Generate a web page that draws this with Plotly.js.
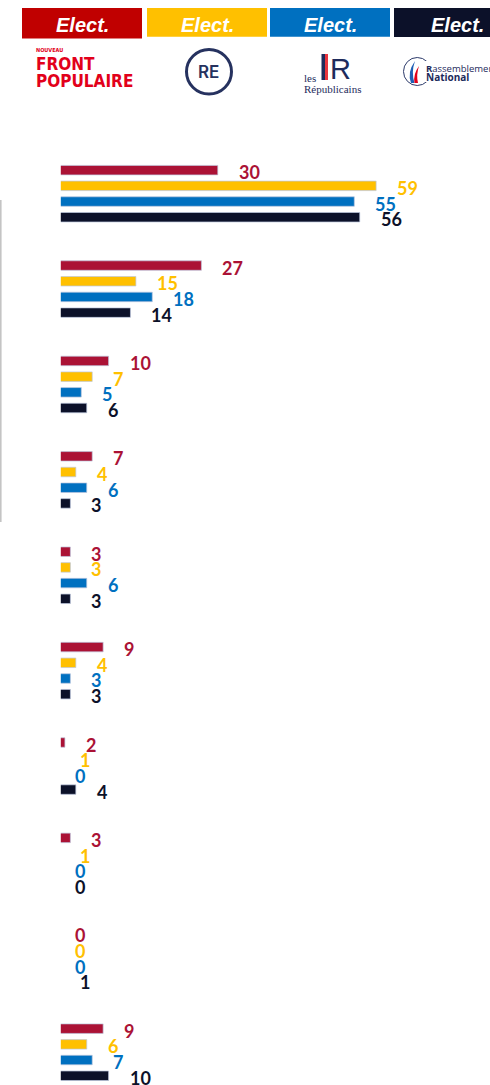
<!DOCTYPE html>
<html>
<head>
<meta charset="utf-8">
<script src="https://cdn.plot.ly/plotly-3.0.1.min.js"></script>
<style>
  html, body { margin: 0; padding: 0; background: #fff; }
  #chart { width: 490px; height: 1085px; }
</style>
</head>
<body>
<div id="chart"></div>
<script>
// ---------- data ----------
const categories = ['Item 1', 'Item 2', 'Item 3', 'Item 4', 'Item 5', 'Item 6', 'Item 7', 'Item 8', 'Item 9', 'Item 10'];
const parties = ['Nouveau Front Populaire', 'Renaissance', 'Les Républicains', 'Rassemblement National'];
const headerLabels = ['Elect.', 'Elect.', 'Elect.', 'Elect.'];
const nfpValues = [30, 27, 10, 7, 3, 9, 2, 3, 0, 9];
const reValues  = [59, 15, 7, 4, 3, 4, 1, 1, 0, 6];
const lrValues  = [55, 18, 5, 6, 6, 3, 0, 0, 0, 7];
const rnValues  = [56, 14, 6, 3, 3, 3, 4, 0, 1, 10];

// ---------- style ----------
const series = [nfpValues, reValues, lrValues, rnValues];
const barColors = ['#AB1235', '#FFC000', '#0070C0', '#0C1129'];
const headerColors = ['#C00000', '#FFC000', '#0070C0', '#0C1129'];
const W = 490, H = 1085;
const M = { l: 54, r: 0, t: 146, b: 0 };
const PW = W - M.l - M.r, PH = H - M.t - M.b;
const pxPerUnit = 5.46;
const groupPitch = 95.39;
const BARGAP = 0.342, BARGROUPGAP = 0.395;

// pixel -> paper helpers for decorations
const px = v => (v - M.l) / PW;
const py = v => 1 - (v - M.t) / PH;

const traces = series.map((vals, k) => ({
  type: 'bar',
  orientation: 'h',
  name: parties[k],
  x: vals,
  y: categories,
  marker: { color: barColors[k], line: { color: 'rgba(190,200,222,0.7)', width: 1 } },
  hoverinfo: 'none',
  showlegend: false
}));

// value labels (offset within each group derived from bargap)
const nT = series.length;
const slot = (1 - BARGAP) / nT;
const annotations = [];
series.forEach((vals, k) => {
  const off = -0.5 * (1 - BARGAP) + slot * (k + 0.5);
  vals.forEach((v, i) => {
    annotations.push({
      x: v, y: i + off, xref: 'x', yref: 'y',
      text: String(v), showarrow: false,
      xanchor: 'left', yanchor: 'middle',
      xshift: 19, yshift: -2,
      font: { family: 'Lato, "Open Sans", sans-serif', size: 18, weight: 'bold', color: barColors[k] }
    });
  });
});

// header boxes
const boxes = [[22, 142, 8, 38.5], [147, 267, 8, 36.7], [270, 390, 8, 36.7], [394, 520, 8, 37]];
const shapes = [];
boxes.forEach((b, k) => {
  shapes.push({ type: 'rect', xref: 'paper', yref: 'paper', x0: px(b[0]), x1: px(b[1]), y0: py(b[2]), y1: py(b[3]),
    fillcolor: headerColors[k], line: { width: 0 }, layer: 'above' });
  annotations.push({ xref: 'paper', yref: 'paper', x: px((b[0] + b[1]) / 2), y: py(25.5),
    xanchor: 'center', yanchor: 'middle', showarrow: false, text: headerLabels[k],
    font: { family: '"Liberation Sans", Arial, sans-serif', size: 20, weight: 'bold', style: 'italic', color: '#FFFFFF' } });
});

// mask: bars visibly start a few px right of zero
shapes.push({ type: 'rect', xref: 'x', yref: 'paper', xsizemode: 'pixel', xanchor: 0, x0: -2, x1: 6.8,
  y0: 0, y1: 1, fillcolor: '#FFFFFF', line: { width: 0 }, layer: 'above' });

// faint left edge line
shapes.push({ type: 'line', xref: 'paper', yref: 'paper', x0: px(0.8), x1: px(0.8), y0: py(200), y1: py(522),
  line: { color: '#C4C4C4', width: 1.6 } });

// ---- logos (approximated) ----
const nfpFont = '"Liberation Sans Narrow", "DejaVu Sans Condensed", "Liberation Sans", sans-serif';
annotations.push({ xref: 'paper', yref: 'paper', x: px(34), y: py(50.5), xanchor: 'left', yanchor: 'middle', showarrow: false,
  text: 'NOUVEAU', font: { family: nfpFont, size: 5.5, weight: 'bold', color: '#E2001A' } });
annotations.push({ xref: 'paper', yref: 'paper', x: px(33.5), y: py(64.5), xanchor: 'left', yanchor: 'middle', showarrow: false,
  text: 'FRONT', font: { family: nfpFont, size: 17, weight: 900, color: '#E2001A' } });
annotations.push({ xref: 'paper', yref: 'paper', x: px(33.5), y: py(81.5), xanchor: 'left', yanchor: 'middle', showarrow: false,
  text: 'POPULAIRE', font: { family: nfpFont, size: 17, weight: 900, color: '#E2001A' } });
// RE
shapes.push({ type: 'circle', xref: 'paper', yref: 'paper', x0: px(186.5), x1: px(231.5), y0: py(49.5), y1: py(94),
  line: { color: '#26325F', width: 3 }, layer: 'above' });
annotations.push({ xref: 'paper', yref: 'paper', x: px(208.5), y: py(71.5), xanchor: 'center', yanchor: 'middle', showarrow: false,
  text: 'RE', font: { family: 'Inter, "Noto Sans", sans-serif', size: 17, weight: 600, color: '#26325F' } });
// LR
shapes.push({ type: 'rect', xref: 'paper', yref: 'paper', x0: px(321.5), x1: px(325), y0: py(54), y1: py(80),
  fillcolor: '#1E2B5C', line: { width: 0 }, layer: 'above' });
shapes.push({ type: 'rect', xref: 'paper', yref: 'paper', x0: px(325), x1: px(328), y0: py(54), y1: py(80),
  fillcolor: '#E8343F', line: { width: 0 }, layer: 'above' });
annotations.push({ xref: 'paper', yref: 'paper', x: px(327.5), y: py(69), xanchor: 'left', yanchor: 'middle', showarrow: false,
  text: 'R', font: { family: '"Liberation Sans", Arial, sans-serif', size: 29, color: '#1E2B5C' } });
annotations.push({ xref: 'paper', yref: 'paper', x: px(301.5), y: py(78), xanchor: 'left', yanchor: 'middle', showarrow: false,
  text: 'les', font: { family: '"Liberation Serif", "DejaVu Serif", serif', size: 11, color: '#1E2B5C' } });
annotations.push({ xref: 'paper', yref: 'paper', x: px(301.5), y: py(89.5), xanchor: 'left', yanchor: 'middle', showarrow: false,
  text: 'Républicains', font: { family: '"Liberation Serif", "DejaVu Serif", serif', size: 11, color: '#1E2B5C' } });
// RN
shapes.push({ type: 'circle', xref: 'paper', yref: 'paper', x0: px(403.5), x1: px(431), y0: py(57.5), y1: py(85.5),
  line: { color: '#2C3A6A', width: 1 }, layer: 'above' });
shapes.push({ type: 'rect', xref: 'paper', yref: 'paper', x0: px(423), x1: px(436), y0: py(61), y1: py(82),
  fillcolor: '#FFFFFF', line: { width: 0 }, layer: 'above' });
shapes.push({ type: 'path', xref: 'paper', yref: 'paper', layer: 'above', line: { width: 0 }, fillcolor: '#1F5FB5',
  path: `M ${px(411)} ${py(83)} Q ${px(407)} ${py(72)} ${px(415)} ${py(61)} Q ${px(411)} ${py(72)} ${px(414.5)} ${py(83)} Z` });
shapes.push({ type: 'path', xref: 'paper', yref: 'paper', layer: 'above', line: { width: 0 }, fillcolor: '#E2001A',
  path: `M ${px(414.5)} ${py(83)} Q ${px(413)} ${py(74)} ${px(419)} ${py(66)} Q ${px(416)} ${py(75)} ${px(418)} ${py(83)} Z` });
annotations.push({ xref: 'paper', yref: 'paper', x: px(423.5), y: py(68), xanchor: 'left', yanchor: 'middle', showarrow: false,
  text: '<b>R</b>assemblement', font: { family: '"Open Sans", "Noto Sans", sans-serif', size: 9.5, color: '#1C2A5B' } });
annotations.push({ xref: 'paper', yref: 'paper', x: px(423.5), y: py(77), xanchor: 'left', yanchor: 'middle', showarrow: false,
  text: 'National', font: { family: '"Open Sans", "Noto Sans", sans-serif', size: 10, weight: 'bold', color: '#1C2A5B' } });

const layout = {
  width: W, height: H,
  margin: M,
  paper_bgcolor: '#FFFFFF', plot_bgcolor: '#FFFFFF',
  barmode: 'group', bargap: BARGAP, bargroupgap: BARGROUPGAP,
  xaxis: { range: [0, PW / pxPerUnit], showgrid: false, zeroline: false, showticklabels: false, ticks: '', showline: false, fixedrange: true },
  yaxis: { type: 'category', range: [-0.5 + PH / groupPitch, -0.5], showgrid: false, zeroline: false, showticklabels: false, ticks: '', showline: false, fixedrange: true },
  annotations: annotations,
  shapes: shapes,
  showlegend: false
};

Plotly.newPlot('chart', traces, layout, { displayModeBar: false, staticPlot: true });
</script>
</body>
</html>
